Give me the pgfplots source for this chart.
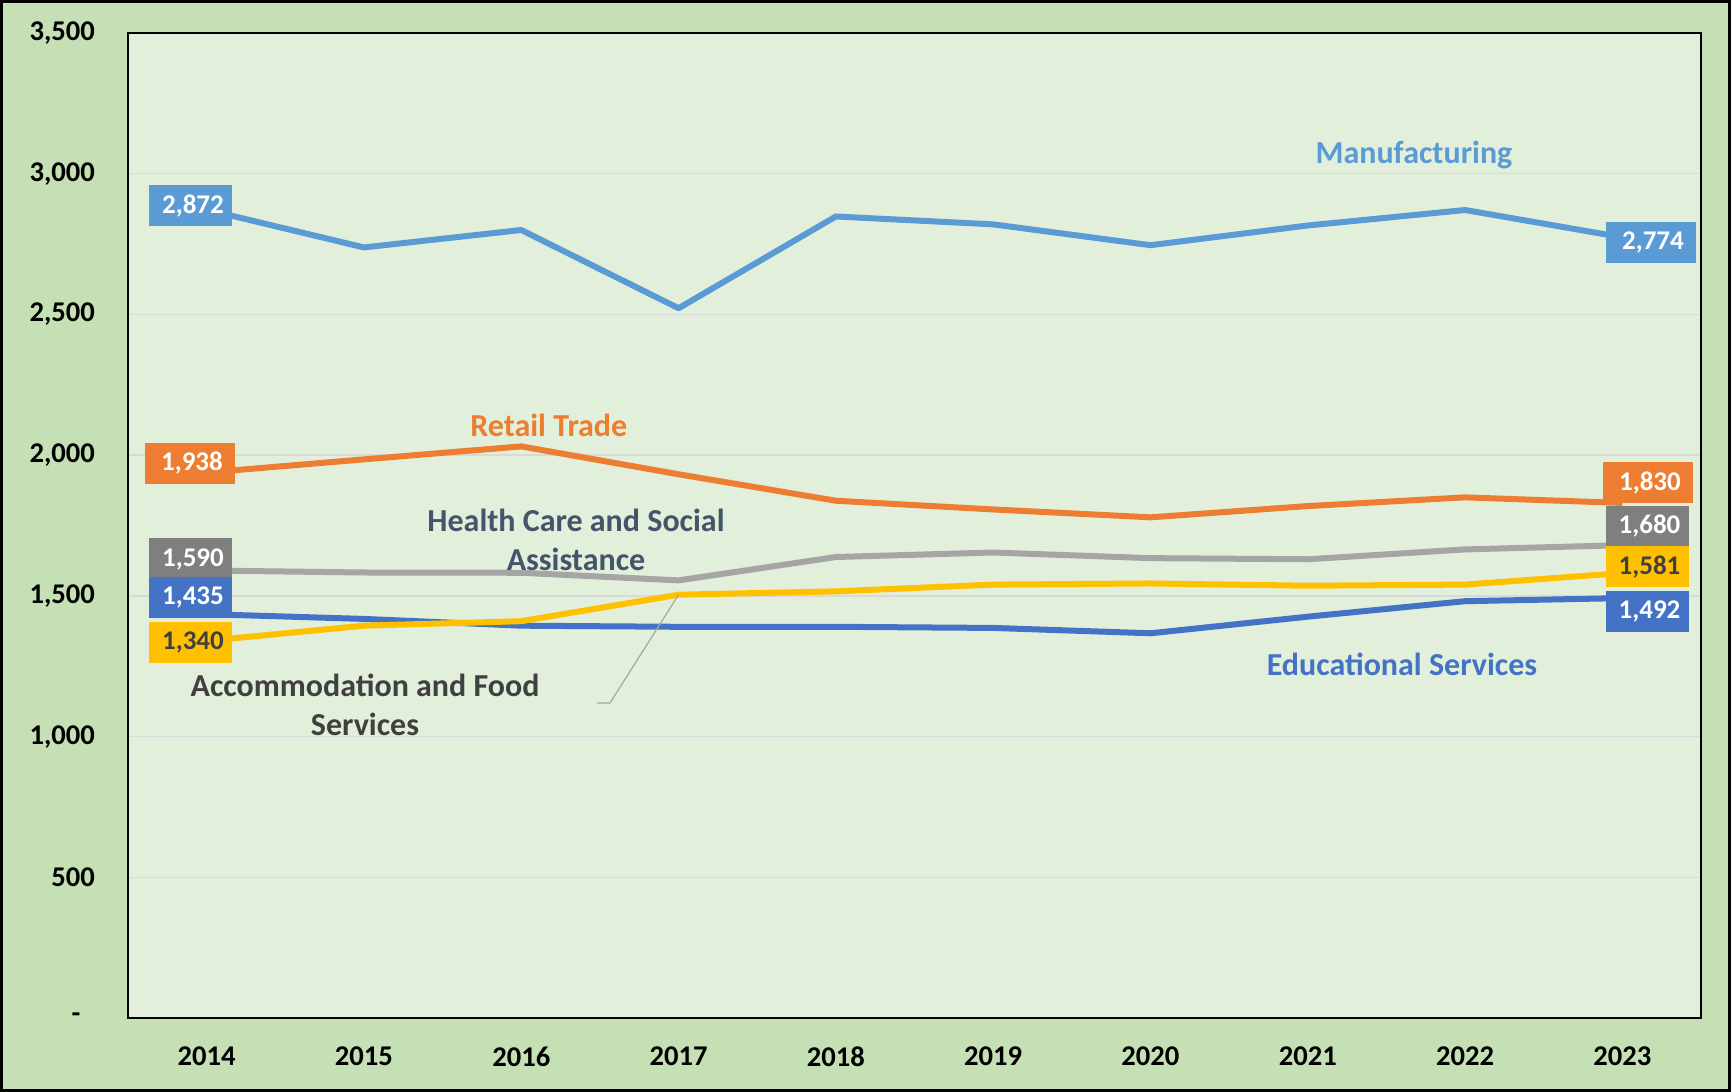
\documentclass[border=0pt]{standalone}
\usepackage{fontspec}
\setmainfont{Carlito}
\usepackage{pgfplots}
\pgfplotsset{compat=1.18}
\definecolor{outerbg}{HTML}{C5E0B4}
\definecolor{plotbg}{HTML}{E2EFDA}
\definecolor{gridc}{HTML}{D9D9D9}
\definecolor{cedu}{HTML}{4472C4}
\definecolor{cret}{HTML}{ED7D31}
\definecolor{chea}{HTML}{A5A5A5}
\definecolor{cheabox}{HTML}{7F7F7F}
\definecolor{cacc}{HTML}{FFC000}
\definecolor{cman}{HTML}{5B9BD5}
\definecolor{cheatxt}{HTML}{44546A}
\definecolor{dark}{HTML}{404040}
\tikzset{
  lbl/.style={minimum width=41.5pt, minimum height=20.5pt, inner sep=0pt, font=\fontsize{13.5}{15}\selectfont\bfseries},
  sl/.style={align=center, font=\fontsize{16}{19.5}\selectfont\bfseries},
}
\begin{document}
\begin{tikzpicture}
\useasboundingbox (-64pt,-37pt) rectangle (801.5pt,509pt);
\fill[outerbg] (-64pt,-37pt) rectangle (801.5pt,509pt);
\draw[black, line width=1.5pt] (-63.25pt,-36.25pt) rectangle (800.75pt,508.25pt);
\begin{axis}[
  at={(0pt,0pt)}, anchor=south west,
  scale only axis, width=786.5pt, height=492.5pt,
  xmin=-0.5, xmax=9.5, ymin=0, ymax=3500,
  xtick={0,...,9}, xticklabels={2014,2015,2016,2017,2018,2019,2020,2021,2022,2023},
  ytick={0,500,1000,1500,2000,2500,3000,3500},
  yticklabels={-\hphantom{0},500,{1,000},{1,500},{2,000},{2,500},{3,000},{3,500}},
  axis background/.style={fill=plotbg},
  axis line style={black, line width=1pt},
  major tick length=0pt,
  ymajorgrids, grid style={gridc, line width=0.75pt},
  tick label style={font=\fontsize{14.3}{16}\selectfont\bfseries},
  yticklabel style={xshift=-13pt},
  xticklabel style={yshift=-11pt},
  every axis plot/.append style={line width=3pt, no markers, line join=round},
]
\addplot[cedu] coordinates {(0,1435)(1,1418)(2,1394)(3,1390)(4,1390)(5,1386)(6,1367)(7,1426)(8,1481)(9,1492)};
\addplot[cret] coordinates {(0,1938)(1,1985)(2,2031)(3,1932)(4,1838)(5,1807)(6,1779)(7,1819)(8,1850)(9,1830)};
\addplot[chea] coordinates {(0,1590)(1,1583)(2,1582)(3,1555)(4,1638)(5,1654)(6,1634)(7,1630)(8,1665)(9,1680)};
\addplot[cacc] coordinates {(0,1340)(1,1394)(2,1410)(3,1504)(4,1516)(5,1540)(6,1544)(7,1536)(8,1540)(9,1581)};
\addplot[cman] coordinates {(0,2872)(1,2738)(2,2800)(3,2522)(4,2848)(5,2820)(6,2746)(7,2816)(8,2871)(9,2774)};
% leader line
\draw[chea, line width=0.6pt] (axis cs:2.482,1119) -- (axis cs:2.564,1119) -- (axis cs:3.0,1504);
% series labels
\node[sl, text=cman] at (axis cs:7.675,3067) {Manufacturing};
\node[sl, text=cret] at (axis cs:2.175,2104) {Retail Trade};
\node[sl, text=cedu] at (axis cs:7.599,1256) {Educational Services};
\node[sl, text=cheatxt] at (axis cs:2.348,1699) {Health Care and Social\\Assistance};
\node[sl, text=dark] at (axis cs:1.007,1112) {Accommodation and Food\\Services};
% data labels left
\node[lbl, fill=cman, text=white] at (axis cs:-0.0995,2887) {\hspace{2pt}2,872};
\node[lbl, fill=cret, text=white, minimum width=45pt] at (axis cs:-0.106,1972) {\hspace{2pt}1,938};
\node[lbl, fill=cheabox, text=white] at (axis cs:-0.0995,1631) {\hspace{2pt}1,590};
\node[lbl, fill=cedu, text=white] at (axis cs:-0.0995,1493) {\hspace{2pt}1,435};
\node[lbl, fill=cacc, text=dark] at (axis cs:-0.0995,1334) {\hspace{2pt}1,340};
% data labels right
\node[lbl, fill=cman, text=white, minimum width=45pt] at (axis cs:9.182,2756) {\hspace{2pt}2,774};
\node[lbl, fill=cret, text=white, minimum width=45pt] at (axis cs:9.163,1901) {\hspace{2pt}1,830};
\node[lbl, fill=cheabox, text=white] at (axis cs:9.160,1747) {\hspace{2pt}1,680};
\node[lbl, fill=cacc, text=dark] at (axis cs:9.160,1603) {\hspace{2pt}1,581};
\node[lbl, fill=cedu, text=white] at (axis cs:9.160,1445) {\hspace{2pt}1,492};
\end{axis}
\end{tikzpicture}
\end{document}
